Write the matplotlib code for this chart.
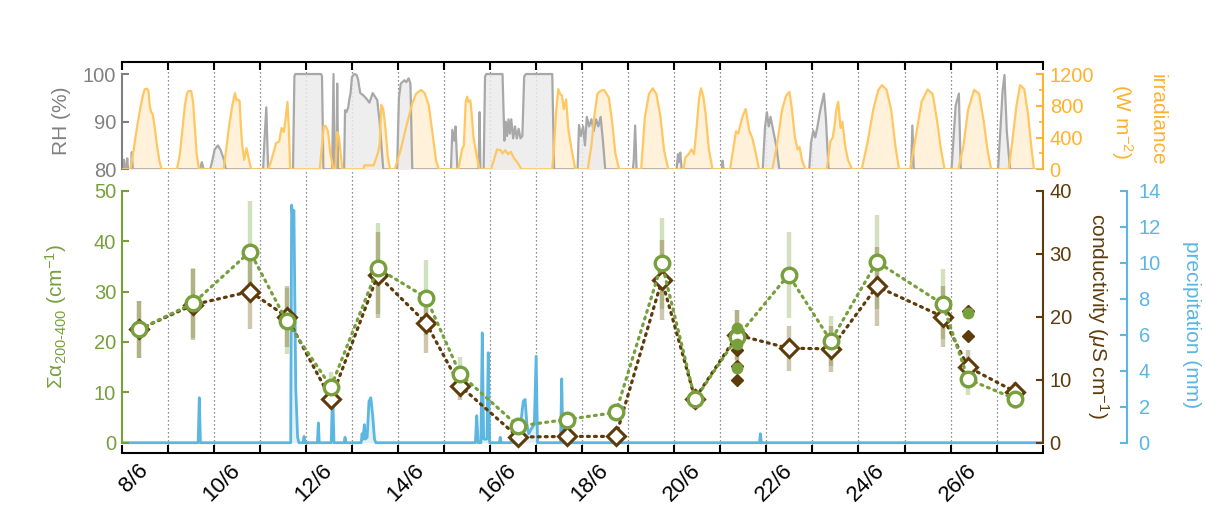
import matplotlib
matplotlib.use("Agg")
import matplotlib.pyplot as plt
from matplotlib.ticker import FixedLocator, NullFormatter

plt.rcParams['font.family'] = ['Liberation Sans', 'DejaVu Sans']
plt.rcParams['mathtext.fontset'] = 'custom'
plt.rcParams['mathtext.rm'] = 'Liberation Sans'
plt.rcParams['mathtext.it'] = 'Liberation Sans:italic'
plt.rcParams['mathtext.bf'] = 'Liberation Sans:bold'

# ---------------------------------------------------------------------------
# Time axis: days since 8 June 00:00 (20 days shown)
# ---------------------------------------------------------------------------
N_DAYS = 20
date_labels = ['8/6', '10/6', '12/6', '14/6', '16/6', '18/6', '20/6', '22/6', '24/6', '26/6']

# Cloud-water samples
sample_t = [0.38, 1.555, 2.786, 3.583, 4.545, 5.56, 6.61, 7.35, 8.61, 9.66,
            10.73, 11.73, 12.45, 13.37, 14.48, 15.40, 16.40, 17.83, 18.38, 19.40]
sigma_alpha = [22.5, 27.7, 37.9, 24.1, 11.1, 34.6, 28.8, 13.6, 3.3, 4.6,
               6.0, 35.6, 8.6, 21.0, 33.3, 20.2, 35.9, 27.5, 12.6, 8.7]
sigma_alpha_err = [5.6, 7.0, 10.0, 6.5, 3.0, 9.0, 7.5, 3.5, 1.0, 1.0,
                   1.2, 9.0, 2.0, 5.3, 8.6, 5.0, 9.3, 7.0, 3.2, 2.0]
conductivity = [18.0, 21.9, 24.0, 20.0, 6.9, 26.6, 19.0, 9.0, 0.9, 1.0,
                1.0, 25.8, 7.0, 17.1, 15.0, 14.9, 24.8, 20.0, 12.0, 8.1]
conductivity_err = [4.5, 5.6, 6.0, 4.8, 1.6, 6.8, 4.8, 2.2, 0.3, 0.3,
                    0.3, 6.4, 1.6, 4.0, 3.6, 3.6, 6.2, 4.8, 2.7, 1.6]

# Individual (unaveraged) samples
single_alpha_t = [13.37, 13.37, 13.37, 18.38]
single_alpha = [22.8, 19.6, 14.8, 25.7]
single_cond_t = [13.37, 13.37, 13.37, 18.38, 18.38]
single_cond = [14.7, 12.2, 9.9, 20.9, 16.9]

# Precipitation (mm)
precip_t = [0.00,
            1.66, 1.685, 1.71,
            3.67, 3.69, 3.715, 3.74, 3.78, 3.82, 3.85,
            3.94, 3.96, 3.98,
            4.25, 4.27, 4.29,
            4.55, 4.58, 4.61,
            4.83, 4.85, 4.87,
            5.20, 5.22, 5.24, 5.27, 5.29, 5.33, 5.37, 5.41, 5.45, 5.49, 5.52,
            7.68, 7.71, 7.74,
            7.80, 7.83, 7.86, 7.93, 7.96, 7.99,
            8.20, 8.22, 8.24,
            8.45, 8.47, 8.50,
            8.64, 8.68, 8.72, 8.76, 8.80, 8.84, 8.90, 8.96, 9.00, 9.03,
            9.53, 9.555, 9.58,
            13.85, 13.87, 13.89,
            20.00]
precip_mm = [0.0,
             0.0, 2.5, 0.0,
             0.0, 13.2, 12.6, 12.9, 3.0, 0.3, 0.0,
             0.0, 0.35, 0.0,
             0.0, 1.1, 0.0,
             0.0, 3.0, 0.0,
             0.0, 0.3, 0.0,
             0.0, 0.5, 0.2, 1.0, 0.2, 0.3, 2.3, 2.5, 1.5, 0.2, 0.0,
             0.0, 1.5, 0.0,
             0.0, 6.1, 0.2, 0.2, 5.0, 0.0,
             0.0, 0.3, 0.0,
             0.0, 0.3, 0.0,
             0.0, 1.4, 2.3, 2.4, 1.0, 0.5, 0.8, 1.0, 4.8, 0.0,
             0.0, 3.55, 0.0,
             0.0, 0.5, 0.0,
             0.0]

# Relative humidity (%), shown above 80 %
rh_t = [0.00, 0.03, 0.05, 0.07, 0.10, 0.12, 0.14, 0.20, 0.22, 0.24,
        1.70, 1.74, 1.78,
        1.92, 1.96, 2.02, 2.09, 2.15, 2.22, 2.26,
        3.07, 3.10, 3.14, 3.18,
        3.72, 3.75, 3.77, 4.33, 4.35, 4.38,
        4.57, 4.60, 4.62, 4.66, 4.68, 4.70,
        4.83, 4.85, 4.88, 4.92, 4.94, 4.97, 5.00, 5.05, 5.10, 5.13, 5.18,
        5.25, 5.30, 5.38, 5.45, 5.55, 5.60, 5.68,
        5.98, 6.02, 6.06, 6.14, 6.18, 6.23, 6.27, 6.31,
        7.15, 7.18, 7.22, 7.25, 7.29,
        7.75, 7.77, 7.79,
        7.86, 7.89, 7.92, 8.27, 8.31, 8.34, 8.37, 8.40, 8.43, 8.46, 8.50,
        8.54, 8.58, 8.62, 8.66, 8.70, 8.74, 8.78, 9.35, 9.39,
        9.90, 9.93, 9.97, 10.02, 10.06, 10.10, 10.15, 10.20, 10.25, 10.30,
        10.35, 10.40, 10.45, 10.50,
        11.10, 11.12, 11.15, 11.18,
        12.05, 12.08, 12.10, 12.13, 12.16,
        13.03, 13.05, 13.07,
        13.92, 13.97, 14.01, 14.05, 14.09, 14.15, 14.22, 14.28,
        14.93, 14.97, 15.02, 15.06, 15.10, 15.17, 15.25, 15.29, 15.35,
        17.14, 17.17, 17.20,
        18.02, 18.06, 18.11, 18.18, 18.22,
        19.03, 19.08, 19.13, 19.17, 19.22, 19.29,
        20.00]
rh = [80, 80, 82, 80, 80, 82.3, 80, 80, 83.6, 80,
      80, 81.5, 80,
      80, 81.5, 84.2, 85, 84, 82, 80,
      80, 86, 93, 80,
      80, 99.5, 100, 100, 99.5, 80,
      80, 100, 80, 80, 98, 80,
      80, 92.4, 92, 93, 94.5, 96, 99.4, 100, 99.8, 99, 96,
      95.5, 95, 94, 96, 94.5, 90, 80,
      80, 95, 98, 98.7, 98.3, 99.1, 98, 80,
      80, 88.3, 86, 89, 80,
      80, 92, 80,
      80, 99.5, 100, 100, 86, 90, 87, 90.5, 87.5, 90.5, 86.5,
      89, 86.5, 88.5, 86.5, 87, 99.5, 100, 100, 80,
      80, 89.3, 87, 89, 85, 91, 89, 90.5, 88, 90.5,
      89, 91, 86, 80,
      80, 82, 89.2, 80,
      80, 83.2, 81.5, 83.5, 80,
      80, 81.8, 80,
      80, 88.8, 92, 89, 91, 88, 84.6, 80,
      80, 85.7, 88.1, 86.7, 88.5, 92.4, 95.9, 91, 80,
      80, 89.2, 80,
      80, 86, 93.4, 95.9, 80,
      80, 88, 96.6, 99.8, 88, 80,
      80]

# Global irradiance (W m-2)
irr_t = [0.00, 0.19, 0.26, 0.33, 0.40, 0.46, 0.50, 0.55, 0.58, 0.61, 0.64, 0.67, 0.71, 0.76, 0.82, 0.87,
         1.20, 1.26, 1.32, 1.37, 1.42, 1.45, 1.51, 1.55, 1.59, 1.63, 1.68,
         2.21, 2.27, 2.33, 2.41, 2.46, 2.49, 2.52, 2.56, 2.59, 2.62, 2.66, 2.71, 2.75, 2.81,
         3.18, 3.23, 3.31, 3.35, 3.42, 3.47, 3.52, 3.56, 3.60, 3.63, 3.66,
         4.30, 4.35, 4.39, 4.43, 4.48, 4.53, 4.60, 4.64, 4.68, 4.72, 4.79,
         5.25, 5.27, 5.47, 5.56, 5.60, 5.64, 5.68, 5.73, 5.78, 5.83,
         5.93, 6.06, 6.18, 6.31, 6.39, 6.50, 6.58, 6.67, 6.75, 6.83, 6.89,
         7.31, 7.39, 7.43, 7.47, 7.50, 7.53, 7.57, 7.60, 7.64, 7.70, 7.77,
         8.02, 8.10, 8.15, 8.23, 8.27, 8.33, 8.39, 8.45, 8.52, 8.60, 8.68,
         9.35, 9.39, 9.43, 9.48, 9.52, 9.56, 9.60, 9.65, 9.70, 9.77, 9.85,
         10.12, 10.20, 10.27, 10.33, 10.40, 10.47, 10.52, 10.58, 10.65, 10.72, 10.80,
         11.28, 11.36, 11.45, 11.53, 11.61, 11.70, 11.78, 11.87,
         12.20, 12.24, 12.31, 12.37, 12.43, 12.48, 12.54, 12.58, 12.63, 12.68, 12.75, 12.83,
         13.21, 13.29, 13.34, 13.39, 13.44, 13.49, 13.55, 13.59, 13.63, 13.69, 13.76, 13.84,
         14.13, 14.24, 14.34, 14.43, 14.50, 14.55, 14.62, 14.68, 14.72, 14.78, 14.85,
         15.31, 15.39, 15.44, 15.48, 15.52, 15.56, 15.61, 15.65, 15.71, 15.77, 15.86,
         16.07, 16.20, 16.32, 16.43, 16.51, 16.61, 16.71, 16.80, 16.88,
         17.12, 17.24, 17.37, 17.50, 17.61, 17.71, 17.79, 17.87,
         18.17, 18.28, 18.38, 18.51, 18.62, 18.72, 18.80, 18.88,
         19.26, 19.34, 19.43, 19.51, 19.60, 19.68, 19.75, 19.81, 20.00]
irradiance = [0, 0, 250, 520, 760, 930, 1010, 1015, 990, 800, 720, 700, 560, 330, 100, 0,
              0, 180, 500, 800, 960, 985, 985, 850, 520, 180, 0,
              0, 250, 540, 830, 960, 870, 880, 860, 520, 290, 120, 265, 160, 0,
              0, 75, 240, 330, 350, 520, 470, 640, 850, 500, 0,
              0, 300, 545, 545, 480, 200, 0, 0, 470, 400, 0,
              0, 50, 50, 200, 300, 810, 760, 500, 150, 0,
              0, 250, 540, 830, 950, 1000, 960, 800, 450, 100, 0,
              0, 250, 300, 850, 915, 850, 870, 700, 400, 200, 0,
              0, 150, 250, 240, 200, 240, 190, 220, 140, 80, 0,
              0, 300, 700, 1010, 950, 930, 760, 880, 500, 250, 0,
              0, 300, 700, 950, 990, 1000, 960, 900, 600, 200, 0,
              0, 650, 950, 1020, 950, 660, 230, 0,
              0, 150, 190, 250, 190, 500, 900, 1020, 920, 700, 250, 0,
              0, 300, 480, 450, 570, 680, 760, 620, 480, 400, 230, 0,
              0, 350, 750, 930, 975, 780, 400, 250, 280, 100, 0,
              0, 350, 400, 550, 760, 850, 520, 600, 300, 120, 0,
              0, 350, 750, 1000, 1060, 1000, 750, 300, 0,
              0, 400, 850, 1005, 950, 600, 250, 0,
              0, 300, 750, 1000, 950, 600, 250, 0,
              0, 350, 800, 1060, 1010, 700, 300, 0, 0]

# ---------------------------------------------------------------------------
# Colours
# ---------------------------------------------------------------------------
GREEN = '#77a03c'
BROWN = '#5e3b0a'
BLUE = '#5cb6e2'
ORANGE = '#ffb22e'
ORANGE_LINE = '#ffc761'
GREY_TXT = '#808080'
GREY_LINE = '#a8a8a8'
GREY_FILL = '#ebebeb'
GRID = '#6a6a6a'

W, H = 1207, 529
fig = plt.figure(figsize=(W / 100, H / 100), dpi=100)


def rect(x0, y0, x1, y1):
    """Figure rectangle from pixel edges (y measured from the top)."""
    return [x0 / W, 1 - y1 / H, (x1 - x0) / W, (y1 - y0) / H]


TICK_FS = 14.5
XTICK_FS = 16
LABEL_FS = 15
SPINE_W = 1.5

# ---------------------------------------------------------------------------
# Lower panel: stacked axes sharing the same box
# ---------------------------------------------------------------------------
main_box = rect(121.7, 171, 1042.7, 453.3)
alpha_lim = (-2.10, 53.91)
cond_lim = (alpha_lim[0] * 40 / 50, alpha_lim[1] * 40 / 50)
precip_lim = (alpha_lim[0] * 14 / 50, alpha_lim[1] * 14 / 50)

ax_p = fig.add_axes(main_box, zorder=1)
ax_se = fig.add_axes(main_box, zorder=2)
ax_c = fig.add_axes(main_box, zorder=3)
ax_s = fig.add_axes(main_box, zorder=4)

for a in (ax_p, ax_se, ax_c, ax_s):
    a.set_xlim(0, N_DAYS)
    for sp in a.spines.values():
        sp.set_visible(False)
    a.tick_params(which='both', bottom=False, top=False, left=False, right=False,
                  labelbottom=False, labelleft=False, labelright=False)
for a in (ax_se, ax_c, ax_s):
    a.patch.set_visible(False)

# precipitation (lowest layer) + day grid + time axis
ax_p.set_ylim(*precip_lim)
ax_p.fill_between(precip_t, 0, precip_mm, color=BLUE, alpha=0.18, lw=0)
ax_p.plot(precip_t, precip_mm, color=BLUE, lw=2.0, solid_joinstyle='round')
for d in range(1, N_DAYS):
    ax_p.axvline(d, color=GRID, lw=0.9, ls=(0, (1, 2.2)), zorder=0)
ax_p.spines['bottom'].set_visible(True)
ax_p.spines['bottom'].set_color('black')
ax_p.spines['bottom'].set_linewidth(SPINE_W)
ax_p.xaxis.set_major_locator(FixedLocator(range(N_DAYS + 1)))
ax_p.xaxis.set_major_formatter(NullFormatter())
ax_p.set_xticks([2 * k + 0.5 for k in range(len(date_labels))], labels=date_labels,
                minor=True, rotation=45, ha='right', va='center',
                rotation_mode='anchor', fontsize=XTICK_FS)
ax_p.tick_params(axis='x', which='major', bottom=True, direction='in', length=6,
                 width=SPINE_W, color='black')
ax_p.tick_params(axis='x', which='minor', bottom=True, length=0, labelbottom=True,
                 pad=10)
ax_p.spines['right'].set_visible(True)
ax_p.spines['right'].set_color(BLUE)
ax_p.spines['right'].set_linewidth(SPINE_W)
ax_p.spines['right'].set_position(('outward', 61))
ax_p.spines['right'].set_bounds(0, 14)
ax_p.set_yticks(range(0, 15, 2))
ax_p.tick_params(axis='y', which='major', right=True, labelright=True, direction='in',
                 length=5, width=SPINE_W, color=BLUE, labelcolor=BLUE,
                 labelsize=TICK_FS, pad=8)

# Σα error bars
ax_se.set_ylim(*alpha_lim)
ax_se.errorbar(sample_t, sigma_alpha, yerr=sigma_alpha_err, fmt='none',
               ecolor=(0.47, 0.63, 0.24, 0.32), elinewidth=3.2, capsize=0)

# conductivity
ax_c.set_ylim(*cond_lim)
ax_c.errorbar(sample_t, conductivity, yerr=conductivity_err, fmt='none',
              ecolor=(0.45, 0.38, 0.12, 0.35), elinewidth=3.2, capsize=0, zorder=1)
ax_c.plot(sample_t, conductivity, ls=(0, (0.6, 1.6)), lw=2.3, color=BROWN,
          dash_capstyle='round', marker='D', ms=8.8, mfc='white', mec=BROWN,
          mew=2.2, zorder=3)
ax_c.plot(single_cond_t, single_cond, ls='none', marker='D', ms=6.5,
          mfc=BROWN, mec=BROWN, zorder=4)
ax_c.spines['right'].set_visible(True)
ax_c.spines['right'].set_color(BROWN)
ax_c.spines['right'].set_linewidth(SPINE_W)
ax_c.spines['right'].set_bounds(0, 40)
ax_c.set_yticks(range(0, 41, 10))
ax_c.tick_params(axis='y', right=True, labelright=True, direction='in', length=5,
                 width=SPINE_W, color=BROWN, labelcolor=BROWN, labelsize=TICK_FS, pad=5)

# Σα absorption
ax_s.set_ylim(*alpha_lim)
ax_s.plot(sample_t, sigma_alpha, ls=(0, (0.6, 1.6)), lw=2.3, color=GREEN,
          dash_capstyle='round', marker='o', ms=10.5, mfc='white', mec=GREEN,
          mew=2.4, zorder=3)
ax_s.plot(single_alpha_t, single_alpha, ls='none', marker='o', ms=7.5,
          mfc=GREEN, mec=GREEN, zorder=4)
ax_s.spines['left'].set_visible(True)
ax_s.spines['left'].set_color(GREEN)
ax_s.spines['left'].set_linewidth(SPINE_W)
ax_s.spines['left'].set_bounds(0, 50)
ax_s.set_yticks(range(0, 51, 10))
ax_s.tick_params(axis='y', left=True, labelleft=True, direction='in', length=5,
                 width=SPINE_W, color=GREEN, labelcolor=GREEN, labelsize=TICK_FS, pad=4)

# ---------------------------------------------------------------------------
# Upper panel: relative humidity and irradiance
# ---------------------------------------------------------------------------
top_box = rect(121.7, 62.3, 1042.7, 169.3)
ax_irr = fig.add_axes(top_box, zorder=1)
ax_rh = fig.add_axes(top_box, zorder=2)
ax_line = fig.add_axes(top_box, zorder=3)
for a in (ax_rh, ax_line):
    a.patch.set_visible(False)
for a in (ax_irr, ax_rh, ax_line):
    a.set_xlim(0, N_DAYS)
    for sp in a.spines.values():
        sp.set_visible(False)
    a.tick_params(which='both', bottom=False, top=False, left=False, right=False,
                  labelbottom=False, labelleft=False, labelright=False)

# irradiance fill and day grid (back layer)
ax_irr.set_ylim(0, 1347.6)
ax_irr.fill_between(irr_t, 0, irradiance, color='#fff1da', lw=0, zorder=1)
for d in range(1, N_DAYS):
    ax_irr.axvline(d, color=GRID, lw=0.9, ls=(0, (1, 2.2)), zorder=2)
ax_irr.spines['right'].set_visible(True)
ax_irr.spines['right'].set_color(ORANGE)
ax_irr.spines['right'].set_linewidth(SPINE_W)
ax_irr.spines['right'].set_bounds(0, 1200)
ax_irr.set_yticks([0, 400, 800, 1200])
ax_irr.yaxis.set_minor_locator(FixedLocator([200, 600, 1000]))
ax_irr.tick_params(axis='y', which='major', right=True, labelright=True, direction='in',
                   length=5, width=SPINE_W, color=ORANGE, labelcolor=ORANGE,
                   labelsize=TICK_FS, pad=5)
ax_irr.tick_params(axis='y', which='minor', right=True, direction='in', length=3,
                   width=1.2, color=ORANGE)

# relative humidity
ax_rh.set_ylim(80, 102.46)
ax_rh.fill_between(rh_t, 80, rh, color=GREY_FILL, alpha=0.85, lw=0, zorder=1)
ax_rh.plot(rh_t, rh, color=GREY_LINE, lw=1.6, zorder=2)
ax_rh.spines['left'].set_visible(True)
ax_rh.spines['left'].set_color(GREY_TXT)
ax_rh.spines['left'].set_linewidth(SPINE_W)
ax_rh.spines['left'].set_bounds(80, 100)
ax_rh.set_yticks([80, 90, 100])
ax_rh.tick_params(axis='y', left=True, labelleft=True, direction='in', length=5,
                  width=SPINE_W, color=GREY_TXT, labelcolor=GREY_TXT,
                  labelsize=TICK_FS, pad=4)
ax_rh.spines['top'].set_visible(True)
ax_rh.spines['top'].set_color('black')
ax_rh.spines['top'].set_linewidth(SPINE_W)
ax_rh.xaxis.set_major_locator(FixedLocator(range(N_DAYS + 1)))
ax_rh.tick_params(axis='x', top=True, labeltop=False, direction='in', length=6,
                  width=SPINE_W, color='black')

# irradiance line drawn above the humidity fill
ax_line.set_ylim(0, 1347.6)
ax_line.plot(irr_t, irradiance, color=ORANGE_LINE, lw=1.6)

# ---------------------------------------------------------------------------
# Axis titles
# ---------------------------------------------------------------------------
def ftext(px, py, s, color, rot):
    fig.text(px / W, 1 - py / H, s, color=color, rotation=rot, ha='center',
             va='center', fontsize=LABEL_FS, rotation_mode='anchor')


ftext(61.7, 121, 'RH (%)', GREY_TXT, 90)
ftext(56, 317, r'Σα$_{\text{200-400}}$ (cm$^{-1}$)', GREEN, 90)
ftext(1156.7, 120, 'irradiance', ORANGE, 270)
ftext(1121.7, 121, r'(W m$^{-2}$)', ORANGE, 270)
ftext(1098.3, 316, r'conductivity ($\mu$S cm$^{-1}$)', BROWN, 270)
ftext(1191.7, 325, 'precipitation (mm)', BLUE, 270)

fig.savefig('out.png', dpi=100)
